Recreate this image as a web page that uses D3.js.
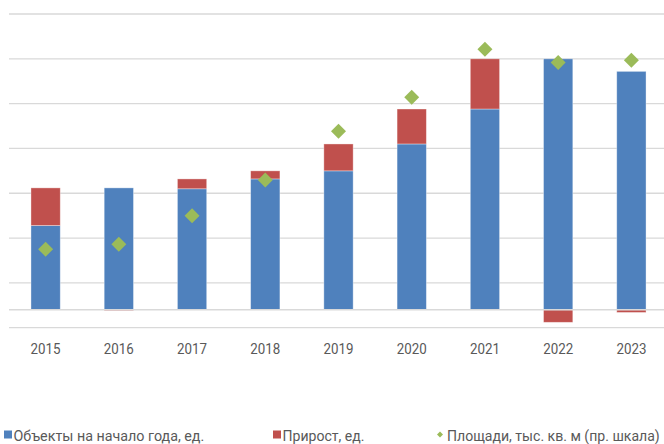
<!DOCTYPE html>
<html>
<head>
<meta charset="utf-8">
<script src="https://cdn.jsdelivr.net/npm/d3@7"></script>
<style>
  html, body { margin: 0; padding: 0; background: #fff; }
  svg { display: block; }
  text { font-family: Roboto, "Noto Sans", sans-serif; fill: #595959; }
</style>
</head>
<body>
<svg id="chart" width="664" height="444"></svg>
<script>
// ---- data ----
const years = ["2015","2016","2017","2018","2019","2020","2021","2022","2023"];
const objectsStart = [94, 136, 135, 146, 155, 185, 224, 280, 266];   // Объекты на начало года, ед.
const growth = [42, -1, 11, 9, 30, 39, 56, -14, -3];                  // Прирост, ед.
const areas = [33.8, 36.5, 52.5, 72.4, 99.6, 118.5, 145.3, 138.0, 139.2]; // Площади, тыс. кв. м (пр. шкала)
const leftTicks = [-20, 30, 80, 130, 180, 230, 280, 330];
const seriesNames = ["Объекты на начало года, ед.", "Прирост, ед.", "Площади, тыс. кв. м (пр. шкала)"];
const colors = ["#4F81BD", "#C0504D", "#9BBB59"];

// ---- layout ----
const svg = d3.select("#chart");
const x = d3.scaleBand().domain(years).range([9, 668]).paddingInner(0.6).paddingOuter(0.3);
const y = d3.scaleLinear().domain([-20, 330]).range([327.7, 14]);
const yR = d3.scaleLinear().domain([-10, 165]).range([327.7, 14]);

// gridlines
svg.append("g").selectAll("line").data(leftTicks).join("line")
  .attr("x1", 9).attr("x2", 664)
  .attr("y1", d => y(d)).attr("y2", d => y(d))
  .attr("stroke", "#d9d9d9").attr("stroke-width", 1.3);

const rows = years.map((yr, i) => ({ yr, a: objectsStart[i], g: growth[i] }));

svg.append("g").selectAll("rect").data(rows).join("rect")
  .attr("x", d => x(d.yr)).attr("width", x.bandwidth())
  .attr("y", d => y(d.a)).attr("height", d => y(0) - y(d.a))
  .attr("fill", colors[0]).attr("stroke", "#fff").attr("stroke-opacity", 0.45).attr("stroke-width", 0.8);

svg.append("g").selectAll("rect").data(rows).join("rect")
  .attr("x", d => x(d.yr)).attr("width", x.bandwidth())
  .attr("y", d => d.g >= 0 ? y(d.a + d.g) : y(0))
  .attr("height", d => d.g >= 0 ? y(d.a) - y(d.a + d.g) : y(d.g) - y(0))
  .attr("fill", colors[1]).attr("stroke", "#fff").attr("stroke-opacity", 0.45).attr("stroke-width", 0.8);

// zero axis line
svg.append("line")
  .attr("x1", 9).attr("x2", 664).attr("y1", y(0)).attr("y2", y(0))
  .attr("stroke", "#d9d9d9").attr("stroke-width", 1.3);

// diamonds (right scale)
const diamond = d3.symbol().type(d3.symbolSquare).size(112);
svg.append("g").selectAll("path").data(years).join("path")
  .attr("d", diamond)
  .attr("transform", (d, i) => `translate(${x(d) + x.bandwidth() / 2},${yR(areas[i])}) rotate(45)`)
  .attr("fill", colors[2]);

// x axis labels
const xAxis = d3.axisBottom(x).tickSize(0).tickPadding(0);
const gx = svg.append("g").attr("transform", "translate(0,343.5)").call(xAxis);
gx.select(".domain").remove();
gx.selectAll("text").attr("font-size", "14.5px").attr("font-family", "Roboto, sans-serif")
  .attr("fill", "#595959").attr("dy", "0.71em")
  .attr("textLength", 30).attr("lengthAdjust", "spacingAndGlyphs");

// legend (text condensed horizontally to the reference's narrow face)
const legendX = [4, 273, 436];
const legendTextW = [191, 82, 213];
const lg = svg.append("g").attr("font-size", "15px");
seriesNames.forEach((name, i) => {
  const g = lg.append("g").attr("transform", `translate(${legendX[i]},0)`);
  if (i < 2) {
    g.append("rect").attr("x", 0).attr("y", 430.5).attr("width", 8).attr("height", 8).attr("fill", colors[i]);
  } else {
    g.append("path").attr("d", d3.symbol().type(d3.symbolSquare).size(18))
      .attr("transform", "translate(4,434.5) rotate(45)").attr("fill", colors[i]);
  }
  const t = g.append("text").text(name);
  const natural = t.node().getComputedTextLength();
  const sx = Math.min(1, legendTextW[i] / natural);
  t.attr("transform", `translate(${i < 2 ? 9.5 : 11},440.5) scale(${sx},1)`);
});
</script>
</body>
</html>
